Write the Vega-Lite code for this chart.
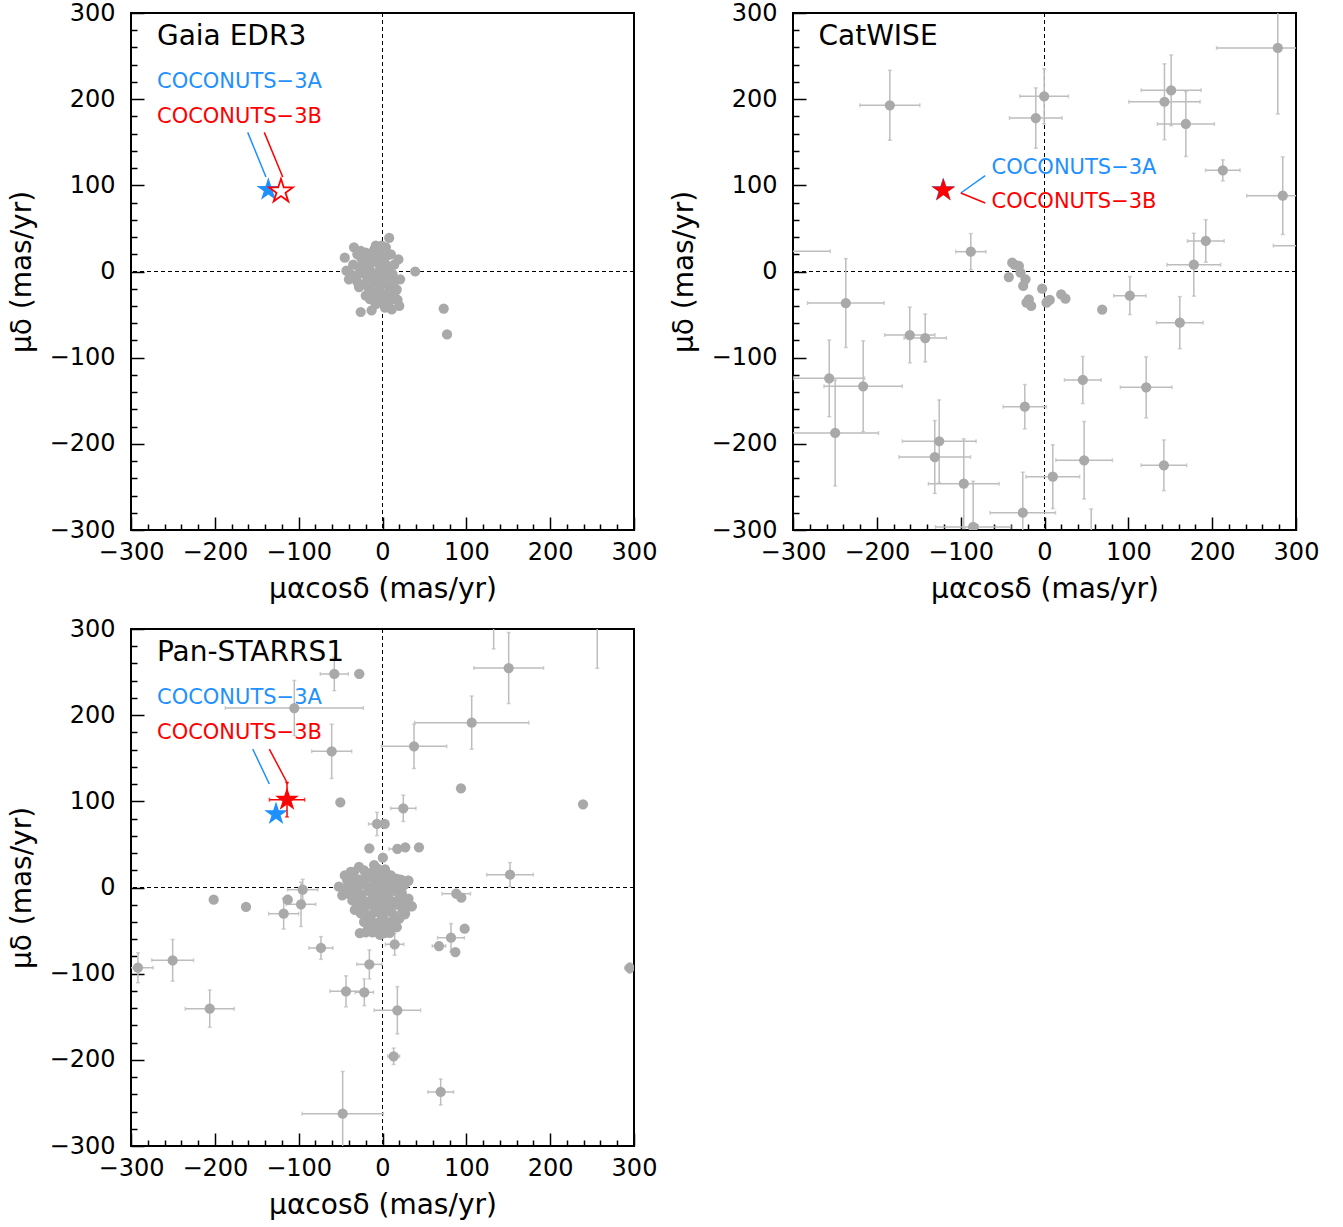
{
  "$schema": "https://vega.github.io/schema/vega-lite/v6.json",
  "background": "white",
  "padding": {"left": 7, "top": 0, "right": 5, "bottom": 5},
  "config": {
    "font": "DejaVu Sans",
    "view": {"stroke": "black", "strokeWidth": 2},
    "axis": {
      "grid": false, "domain": false,
      "labelFont": "DejaVu Sans", "labelFontSize": 24, "labelColor": "black",
      "tickColor": "black", "tickWidth": 1.5,
      "titleFont": "DejaVu Sans", "titleFontSize": 28, "titleFontWeight": "normal", "titleColor": "black",
      "labelFlush": false, "labelOverlap": false
    }
  },
  "datasets": {
    "bg": [
      {"s":"G","x":8,"y":39,"xerr":0,"yerr":0},{"s":"G","x":-34,"y":28,"xerr":0,"yerr":0},{"s":"G","x":-45,"y":16,"xerr":0,"yerr":0},{"s":"G","x":-43,"y":1,"xerr":0,"yerr":0},{"s":"G","x":-40,"y":-9,"xerr":0,"yerr":0},{"s":"G","x":-28,"y":-18,"xerr":0,"yerr":0},{"s":"G","x":39,"y":0,"xerr":0,"yerr":0},{"s":"G","x":21,"y":-9,"xerr":0,"yerr":0},{"s":"G","x":19,"y":14,"xerr":0,"yerr":0},{"s":"G","x":18,"y":-33,"xerr":0,"yerr":0},{"s":"G","x":20,"y":-40,"xerr":0,"yerr":0},{"s":"G","x":11,"y":-44,"xerr":0,"yerr":0},{"s":"G","x":3,"y":-42,"xerr":0,"yerr":0},{"s":"G","x":-13,"y":-45,"xerr":0,"yerr":0},{"s":"G","x":-26,"y":-47,"xerr":0,"yerr":0},{"s":"G","x":73,"y":-43,"xerr":0,"yerr":0},{"s":"G","x":77,"y":-73,"xerr":0,"yerr":0},{"s":"G","x":-8,"y":30,"xerr":0,"yerr":0},{"s":"G","x":4,"y":28,"xerr":0,"yerr":0},{"s":"G","x":-15,"y":-32,"xerr":0,"yerr":0},{"s":"G","x":17,"y":-21,"xerr":0,"yerr":0},
      {"s":"G","x":-30,"y":20,"xerr":0,"yerr":0},{"s":"G","x":-25,"y":15,"xerr":0,"yerr":0},{"s":"G","x":-20,"y":22,"xerr":0,"yerr":0},{"s":"G","x":-15,"y":18,"xerr":0,"yerr":0},{"s":"G","x":-10,"y":25,"xerr":0,"yerr":0},{"s":"G","x":-5,"y":20,"xerr":0,"yerr":0},{"s":"G","x":0,"y":22,"xerr":0,"yerr":0},{"s":"G","x":5,"y":18,"xerr":0,"yerr":0},{"s":"G","x":10,"y":20,"xerr":0,"yerr":0},{"s":"G","x":-35,"y":8,"xerr":0,"yerr":0},{"s":"G","x":-28,"y":5,"xerr":0,"yerr":0},{"s":"G","x":-22,"y":10,"xerr":0,"yerr":0},{"s":"G","x":-16,"y":6,"xerr":0,"yerr":0},{"s":"G","x":-10,"y":12,"xerr":0,"yerr":0},{"s":"G","x":-4,"y":8,"xerr":0,"yerr":0},{"s":"G","x":2,"y":10,"xerr":0,"yerr":0},{"s":"G","x":8,"y":6,"xerr":0,"yerr":0},{"s":"G","x":14,"y":8,"xerr":0,"yerr":0},{"s":"G","x":-38,"y":-3,"xerr":0,"yerr":0},{"s":"G","x":-32,"y":-5,"xerr":0,"yerr":0},{"s":"G","x":-25,"y":-2,"xerr":0,"yerr":0},{"s":"G","x":-18,"y":-8,"xerr":0,"yerr":0},{"s":"G","x":-12,"y":-1,"xerr":0,"yerr":0},{"s":"G","x":-6,"y":-5,"xerr":0,"yerr":0},{"s":"G","x":0,"y":-2,"xerr":0,"yerr":0},{"s":"G","x":6,"y":-6,"xerr":0,"yerr":0},{"s":"G","x":12,"y":-3,"xerr":0,"yerr":0},{"s":"G","x":-30,"y":-12,"xerr":0,"yerr":0},{"s":"G","x":-22,"y":-15,"xerr":0,"yerr":0},{"s":"G","x":-16,"y":-20,"xerr":0,"yerr":0},{"s":"G","x":-10,"y":-12,"xerr":0,"yerr":0},{"s":"G","x":-4,"y":-18,"xerr":0,"yerr":0},{"s":"G","x":2,"y":-14,"xerr":0,"yerr":0},{"s":"G","x":8,"y":-18,"xerr":0,"yerr":0},{"s":"G","x":14,"y":-12,"xerr":0,"yerr":0},{"s":"G","x":-20,"y":-28,"xerr":0,"yerr":0},{"s":"G","x":-12,"y":-25,"xerr":0,"yerr":0},{"s":"G","x":-6,"y":-30,"xerr":0,"yerr":0},{"s":"G","x":0,"y":-26,"xerr":0,"yerr":0},{"s":"G","x":6,"y":-28,"xerr":0,"yerr":0},{"s":"G","x":12,"y":-26,"xerr":0,"yerr":0},{"s":"G","x":-8,"y":-38,"xerr":0,"yerr":0},{"s":"G","x":0,"y":-36,"xerr":0,"yerr":0},{"s":"G","x":8,"y":-35,"xerr":0,"yerr":0},{"s":"G","x":-2,"y":2,"xerr":0,"yerr":0},{"s":"G","x":-20,"y":0,"xerr":0,"yerr":0},{"s":"G","x":-14,"y":14,"xerr":0,"yerr":0},{"s":"G","x":4,"y":0,"xerr":0,"yerr":0},{"s":"G","x":-26,"y":24,"xerr":0,"yerr":0},{"s":"G","x":-9,"y":-8,"xerr":0,"yerr":0},{"s":"G","x":-3,"y":-10,"xerr":0,"yerr":0},{"s":"G","x":10,"y":-22,"xerr":0,"yerr":0},{"s":"G","x":15,"y":-30,"xerr":0,"yerr":0},{"s":"G","x":-1,"y":30,"xerr":0,"yerr":0},{"s":"G","x":0,"y":14,"xerr":0,"yerr":0},

      {"s":"C","x":-184.5,"y":192.9,"xerr":35.8,"yerr":40.6},{"s":"C","x":-87.9,"y":23,"xerr":18,"yerr":21},{"s":"C","x":-10.4,"y":178.1,"xerr":31.4,"yerr":35},{"s":"C","x":-0.4,"y":203.3,"xerr":29,"yerr":32},{"s":"C","x":-310,"y":23.5,"xerr":54.4,"yerr":20},{"s":"C","x":-237,"y":-36.6,"xerr":45.7,"yerr":51.6},{"s":"C","x":278.3,"y":259.4,"xerr":73,"yerr":76.6},{"s":"C","x":151.1,"y":210.3,"xerr":35.8,"yerr":41},{"s":"C","x":143.1,"y":197,"xerr":42.5,"yerr":44},{"s":"C","x":168.6,"y":171.2,"xerr":34,"yerr":37.7},{"s":"C","x":212.7,"y":117.4,"xerr":20.6,"yerr":12.2},{"s":"C","x":284.2,"y":88,"xerr":43,"yerr":45},{"s":"C","x":330,"y":30,"xerr":57,"yerr":20},{"s":"C","x":192.4,"y":35.4,"xerr":21.9,"yerr":24.7},{"s":"C","x":178.1,"y":7.9,"xerr":32,"yerr":36.5},{"s":"C","x":-160.7,"y":-73.7,"xerr":30,"yerr":32.3},{"s":"C","x":-142.3,"y":-77.2,"xerr":25.2,"yerr":27.8},{"s":"C","x":-256.8,"y":-124,"xerr":42.3,"yerr":44.5},{"s":"C","x":-216.3,"y":-133.2,"xerr":46.7,"yerr":52.8},{"s":"C","x":-249.7,"y":-187.4,"xerr":51.7,"yerr":61.5},{"s":"C","x":-125.6,"y":-197,"xerr":44,"yerr":48},{"s":"C","x":-130.9,"y":-215.3,"xerr":42.7,"yerr":42.3},{"s":"C","x":-96.3,"y":-246.3,"xerr":42.2,"yerr":52},{"s":"C","x":-85.1,"y":-296.5,"xerr":45,"yerr":53},{"s":"C","x":-25.9,"y":-279.9,"xerr":39,"yerr":47},{"s":"C","x":-23.5,"y":-156.9,"xerr":25.8,"yerr":25.7},{"s":"C","x":9.9,"y":-238.1,"xerr":32,"yerr":37},{"s":"C","x":55.7,"y":-320,"xerr":30,"yerr":44.4},{"s":"C","x":101.8,"y":-28,"xerr":19.3,"yerr":22},{"s":"C","x":161.4,"y":-59.4,"xerr":27.8,"yerr":30.2},{"s":"C","x":45.7,"y":-125.9,"xerr":21.9,"yerr":27.3},{"s":"C","x":121.3,"y":-134.4,"xerr":30.8,"yerr":35.4},{"s":"C","x":47.3,"y":-219.1,"xerr":33.8,"yerr":44.9},{"s":"C","x":142.4,"y":-224.9,"xerr":27.2,"yerr":29.4},{"s":"C","x":68.8,"y":-44.3,"xerr":0,"yerr":0},
      {"s":"C","x":-38.5,"y":10.2,"xerr":0,"yerr":0},{"s":"C","x":-36,"y":8,"xerr":0,"yerr":0},{"s":"C","x":-30.6,"y":6.4,"xerr":0,"yerr":0},{"s":"C","x":-28.6,"y":-1.4,"xerr":0,"yerr":0},{"s":"C","x":-42.6,"y":-6.4,"xerr":0,"yerr":0},{"s":"C","x":-22.7,"y":-9,"xerr":0,"yerr":0},{"s":"C","x":-25.4,"y":-16.8,"xerr":0,"yerr":0},{"s":"C","x":-2.8,"y":-20,"xerr":0,"yerr":0},{"s":"C","x":-18.7,"y":-32.3,"xerr":0,"yerr":0},{"s":"C","x":-15.9,"y":-40,"xerr":0,"yerr":0},{"s":"C","x":-21.5,"y":-36.2,"xerr":0,"yerr":0},{"s":"C","x":2.4,"y":-36.2,"xerr":0,"yerr":0},{"s":"C","x":6.3,"y":-33,"xerr":0,"yerr":0},{"s":"C","x":19.9,"y":-26.5,"xerr":0,"yerr":0},{"s":"C","x":25,"y":-31.6,"xerr":0,"yerr":0},{"s":"C","x":3.9,"y":-34.2,"xerr":0,"yerr":0},

      {"s":"P","x":-57.5,"y":247.8,"xerr":16.7,"yerr":19.4},{"s":"P","x":-27.7,"y":247.8,"xerr":5,"yerr":5},{"s":"P","x":-105.2,"y":208.3,"xerr":82.3,"yerr":32},{"s":"P","x":-60.6,"y":158,"xerr":23.9,"yerr":31.5},{"s":"P","x":-50.3,"y":98.9,"xerr":0,"yerr":0},{"s":"P","x":-6.6,"y":73.7,"xerr":10,"yerr":13.5},{"s":"P","x":2.6,"y":73.7,"xerr":0,"yerr":0},{"s":"P","x":-15.7,"y":45.5,"xerr":0,"yerr":0},{"s":"P","x":0.4,"y":34.6,"xerr":0,"yerr":0},{"s":"P","x":150.5,"y":254.7,"xerr":41.6,"yerr":41.2},{"s":"P","x":132.6,"y":320,"xerr":20,"yerr":43.2},{"s":"P","x":256.2,"y":330,"xerr":30,"yerr":75.6},{"s":"P","x":106.4,"y":191.3,"xerr":68.2,"yerr":30.9},{"s":"P","x":37.6,"y":163.8,"xerr":39,"yerr":25.7},{"s":"P","x":93.6,"y":115.1,"xerr":0,"yerr":0},{"s":"P","x":239.2,"y":96.5,"xerr":0,"yerr":0},{"s":"P","x":24.8,"y":91.9,"xerr":15.1,"yerr":15.3},{"s":"P","x":17.7,"y":44.7,"xerr":10,"yerr":5},{"s":"P","x":27.2,"y":46.7,"xerr":0,"yerr":0},{"s":"P","x":43.5,"y":46.7,"xerr":0,"yerr":0},{"s":"P","x":152.1,"y":14.9,"xerr":27.8,"yerr":14},{"s":"P","x":-201.4,"y":-14.1,"xerr":0,"yerr":0},{"s":"P","x":-162.8,"y":-22.6,"xerr":0,"yerr":0},{"s":"P","x":-113.1,"y":-14.1,"xerr":5,"yerr":5},{"s":"P","x":-117.9,"y":-30.4,"xerr":17.9,"yerr":17.8},{"s":"P","x":-97.2,"y":-19.5,"xerr":17.5,"yerr":25.7},{"s":"P","x":-95.2,"y":-2.5,"xerr":18,"yerr":12},{"s":"P","x":-291.7,"y":-93.1,"xerr":18,"yerr":17.4},{"s":"P","x":-250.3,"y":-84.5,"xerr":24.9,"yerr":24.2},{"s":"P","x":-206.1,"y":-140.6,"xerr":29.2,"yerr":21.6},{"s":"P","x":-73.4,"y":-70.2,"xerr":14.3,"yerr":13.2},{"s":"P","x":-15.7,"y":-89.2,"xerr":15,"yerr":16.8},{"s":"P","x":-43.5,"y":-120.5,"xerr":19.3,"yerr":18},{"s":"P","x":-21.7,"y":-121.6,"xerr":11,"yerr":15.5},{"s":"P","x":17.7,"y":-142.5,"xerr":27.7,"yerr":27.5},{"s":"P","x":-47.5,"y":-262.5,"xerr":48.5,"yerr":49},{"s":"P","x":88,"y":-7.2,"xerr":17,"yerr":5},{"s":"P","x":94,"y":-11.8,"xerr":0,"yerr":0},{"s":"P","x":98,"y":-47.8,"xerr":0,"yerr":0},{"s":"P","x":81.7,"y":-58.3,"xerr":16,"yerr":16.4},{"s":"P","x":67.4,"y":-67.9,"xerr":8,"yerr":5},{"s":"P","x":86.9,"y":-74.9,"xerr":0,"yerr":0},{"s":"P","x":14.5,"y":-65.9,"xerr":11,"yerr":12.6},{"s":"P","x":13.3,"y":-195.9,"xerr":7,"yerr":9.5},{"s":"P","x":69.4,"y":-237.3,"xerr":15.3,"yerr":15.1},{"s":"P","x":294.9,"y":-93.4,"xerr":6,"yerr":6},
      {"s":"P","x":26.5,"y":-31.1,"xerr":0,"yerr":0},{"s":"P","x":34.4,"y":-21.5,"xerr":0,"yerr":0},{"s":"P","x":16.5,"y":-45.8,"xerr":0,"yerr":0},{"s":"P","x":8.6,"y":-52.8,"xerr":0,"yerr":0},{"s":"P","x":16.5,"y":9.9,"xerr":0,"yerr":0},{"s":"P","x":30.4,"y":7.9,"xerr":0,"yerr":0},
      {"s":"P","x":-45,"y":14,"xerr":0,"yerr":0},{"s":"P","x":-52,"y":1,"xerr":0,"yerr":0},{"s":"P","x":-48,"y":-9,"xerr":0,"yerr":0},{"s":"P","x":-33,"y":-26,"xerr":0,"yerr":0},{"s":"P","x":-27,"y":-53,"xerr":0,"yerr":0},{"s":"P","x":-3,"y":-55,"xerr":0,"yerr":0},{"s":"P","x":9,"y":-51,"xerr":0,"yerr":0},{"s":"P","x":17,"y":-46,"xerr":0,"yerr":0},{"s":"P","x":27,"y":-30,"xerr":0,"yerr":0},{"s":"P","x":35,"y":-22,"xerr":0,"yerr":0},{"s":"P","x":31,"y":-13,"xerr":0,"yerr":0},{"s":"P","x":31,"y":8,"xerr":0,"yerr":0},{"s":"P","x":17,"y":10,"xerr":0,"yerr":0},{"s":"P","x":3,"y":21,"xerr":0,"yerr":0},{"s":"P","x":-28,"y":24,"xerr":0,"yerr":0},{"s":"P","x":-20,"y":-52,"xerr":0,"yerr":0},{"s":"P","x":-40,"y":-5,"xerr":0,"yerr":0},{"s":"P","x":-10,"y":26,"xerr":0,"yerr":0},{"s":"P","x":-5,"y":16,"xerr":0,"yerr":0},{"s":"P","x":-38,"y":18,"xerr":0,"yerr":0},
      {"s":"P","x":-34,"y":18,"xerr":0,"yerr":0},{"s":"P","x":-22,"y":20,"xerr":0,"yerr":0},{"s":"P","x":-14,"y":17,"xerr":0,"yerr":0},{"s":"P","x":-6,"y":22,"xerr":0,"yerr":0},{"s":"P","x":2,"y":16,"xerr":0,"yerr":0},{"s":"P","x":10,"y":14,"xerr":0,"yerr":0},
      {"s":"P","x":-42,"y":8,"xerr":0,"yerr":0},{"s":"P","x":-35,"y":11,"xerr":0,"yerr":0},{"s":"P","x":-27,"y":9,"xerr":0,"yerr":0},{"s":"P","x":-19,"y":12,"xerr":0,"yerr":0},{"s":"P","x":-11,"y":10,"xerr":0,"yerr":0},{"s":"P","x":-3,"y":8,"xerr":0,"yerr":0},{"s":"P","x":5,"y":11,"xerr":0,"yerr":0},{"s":"P","x":13,"y":6,"xerr":0,"yerr":0},{"s":"P","x":22,"y":9,"xerr":0,"yerr":0},
      {"s":"P","x":-44,"y":-1,"xerr":0,"yerr":0},{"s":"P","x":-37,"y":3,"xerr":0,"yerr":0},{"s":"P","x":-29,"y":1,"xerr":0,"yerr":0},{"s":"P","x":-21,"y":4,"xerr":0,"yerr":0},{"s":"P","x":-13,"y":0,"xerr":0,"yerr":0},{"s":"P","x":-5,"y":3,"xerr":0,"yerr":0},{"s":"P","x":3,"y":0,"xerr":0,"yerr":0},{"s":"P","x":11,"y":2,"xerr":0,"yerr":0},{"s":"P","x":19,"y":-1,"xerr":0,"yerr":0},{"s":"P","x":26,"y":3,"xerr":0,"yerr":0},
      {"s":"P","x":-41,"y":-7,"xerr":0,"yerr":0},{"s":"P","x":-33,"y":-5,"xerr":0,"yerr":0},{"s":"P","x":-25,"y":-8,"xerr":0,"yerr":0},{"s":"P","x":-17,"y":-4,"xerr":0,"yerr":0},{"s":"P","x":-9,"y":-7,"xerr":0,"yerr":0},{"s":"P","x":-1,"y":-5,"xerr":0,"yerr":0},{"s":"P","x":7,"y":-8,"xerr":0,"yerr":0},{"s":"P","x":15,"y":-4,"xerr":0,"yerr":0},{"s":"P","x":23,"y":-6,"xerr":0,"yerr":0},
      {"s":"P","x":-36,"y":-15,"xerr":0,"yerr":0},{"s":"P","x":-28,"y":-12,"xerr":0,"yerr":0},{"s":"P","x":-20,"y":-16,"xerr":0,"yerr":0},{"s":"P","x":-12,"y":-13,"xerr":0,"yerr":0},{"s":"P","x":-4,"y":-15,"xerr":0,"yerr":0},{"s":"P","x":4,"y":-12,"xerr":0,"yerr":0},{"s":"P","x":12,"y":-16,"xerr":0,"yerr":0},{"s":"P","x":20,"y":-13,"xerr":0,"yerr":0},{"s":"P","x":28,"y":-17,"xerr":0,"yerr":0},
      {"s":"P","x":-30,"y":-21,"xerr":0,"yerr":0},{"s":"P","x":-22,"y":-24,"xerr":0,"yerr":0},{"s":"P","x":-14,"y":-20,"xerr":0,"yerr":0},{"s":"P","x":-6,"y":-23,"xerr":0,"yerr":0},{"s":"P","x":2,"y":-21,"xerr":0,"yerr":0},{"s":"P","x":10,"y":-24,"xerr":0,"yerr":0},{"s":"P","x":18,"y":-20,"xerr":0,"yerr":0},{"s":"P","x":24,"y":-26,"xerr":0,"yerr":0},
      {"s":"P","x":-26,"y":-30,"xerr":0,"yerr":0},{"s":"P","x":-18,"y":-32,"xerr":0,"yerr":0},{"s":"P","x":-10,"y":-29,"xerr":0,"yerr":0},{"s":"P","x":-2,"y":-31,"xerr":0,"yerr":0},{"s":"P","x":6,"y":-28,"xerr":0,"yerr":0},{"s":"P","x":14,"y":-32,"xerr":0,"yerr":0},{"s":"P","x":20,"y":-36,"xerr":0,"yerr":0},
      {"s":"P","x":-22,"y":-40,"xerr":0,"yerr":0},{"s":"P","x":-14,"y":-37,"xerr":0,"yerr":0},{"s":"P","x":-6,"y":-41,"xerr":0,"yerr":0},{"s":"P","x":2,"y":-38,"xerr":0,"yerr":0},{"s":"P","x":10,"y":-40,"xerr":0,"yerr":0},
      {"s":"P","x":-17,"y":-47,"xerr":0,"yerr":0},{"s":"P","x":-9,"y":-45,"xerr":0,"yerr":0},{"s":"P","x":-1,"y":-48,"xerr":0,"yerr":0},{"s":"P","x":7,"y":-44,"xerr":0,"yerr":0},{"s":"P","x":-12,"y":-52,"xerr":0,"yerr":0},{"s":"P","x":2,"y":-53,"xerr":0,"yerr":0}
    ],
    "stars": [
      {"s":"G","src":"A","x":-136.2,"y":94.9,"xerr":0,"yerr":0},
      {"s":"G","src":"B","x":-121.1,"y":93.1,"xerr":0,"yerr":0},
      {"s":"C","src":"A","x":-121,"y":94.5,"xerr":0,"yerr":0},
      {"s":"C","src":"B","x":-120.5,"y":94.2,"xerr":0,"yerr":0},
      {"s":"P","src":"A","x":-127,"y":85.3,"xerr":0,"yerr":0},
      {"s":"P","src":"B","x":-113.9,"y":101.9,"xerr":21,"yerr":20}
    ],
    "notes": [
      {"s":"G","kind":"title","text":"Gaia EDR3","x":-269,"y":272},
      {"s":"G","kind":"A","text":"COCONUTS−3A","x":-269,"y":220},
      {"s":"G","kind":"B","text":"COCONUTS−3B","x":-269,"y":179},
      {"s":"C","kind":"title","text":"CatWISE","x":-269.6,"y":272},
      {"s":"C","kind":"A","text":"COCONUTS−3A","x":-63.2,"y":120.1},
      {"s":"C","kind":"B","text":"COCONUTS−3B","x":-63.2,"y":80.7},
      {"s":"P","kind":"title","text":"Pan-STARRS1","x":-269,"y":272},
      {"s":"P","kind":"A","text":"COCONUTS−3A","x":-269,"y":219.5},
      {"s":"P","kind":"B","text":"COCONUTS−3B","x":-269,"y":178.9}
    ],
    "pointers": [
      {"s":"G","src":"A","x":-160.8,"y":161.5,"x2":-139,"y2":109.7},
      {"s":"G","src":"B","x":-141,"y":161.5,"x2":-119,"y2":109.7},
      {"s":"C","src":"A","x":-99.8,"y":91.1,"x2":-70.7,"y2":111.2},
      {"s":"C","src":"B","x":-99.8,"y":91.1,"x2":-70.7,"y2":79.5},
      {"s":"P","src":"A","x":-154.8,"y":160.7,"x2":-135,"y2":120.1},
      {"s":"P","src":"B","x":-135,"y":160.7,"x2":-113,"y2":120.1}
    ]
  },
  "vconcat": [
    {
      "hconcat": [
        {
          "width": 503, "height": 517,
          "resolve": {"axis": {"x": "independent", "y": "independent"}},
          "layer": [
            {"data": {"values": [{}]}, "mark": {"type": "rule", "color": "black", "strokeWidth": 1, "strokeDash": [4, 3]},
             "encoding": {"x": {"datum": 0, "type": "quantitative", "scale": {"domain": [-300, 300], "nice": false},
               "axis": {"orient": "bottom", "values": [-280,-260,-240,-220,-180,-160,-140,-120,-80,-60,-40,-20,20,40,60,80,120,140,160,180,220,240,260,280], "tickSize": -6, "labels": false, "title": null, "domain": false}}}},
            {"data": {"values": [{}]}, "mark": {"type": "rule", "color": "black", "strokeWidth": 1, "strokeDash": [4, 3]},
             "encoding": {"y": {"datum": 0, "type": "quantitative", "scale": {"domain": [-300, 300], "nice": false},
               "axis": {"orient": "left", "values": [-280,-260,-240,-220,-180,-160,-140,-120,-80,-60,-40,-20,20,40,60,80,120,140,160,180,220,240,260,280], "tickSize": -6, "labels": false, "title": null, "domain": false}}}},
            {"data": {"name": "bg"}, "transform": [{"filter": "datum.s === 'G'"}],
             "mark": {"type": "circle", "size": 105, "color": "#a9a9a9", "opacity": 1, "clip": true},
             "encoding": {
               "x": {"field": "x", "type": "quantitative", "scale": {"domain": [-300, 300], "nice": false},
                 "axis": {"orient": "bottom", "values": [-300,-200,-100,0,100,200,300], "format": "d", "tickSize": -13, "labelPadding": 23, "title": "μαcosδ (mas/yr)", "titlePadding": 11}},
               "y": {"field": "y", "type": "quantitative", "scale": {"domain": [-300, 300], "nice": false},
                 "axis": {"orient": "left", "values": [-300,-200,-100,0,100,200,300], "format": "d", "tickSize": -13, "labelPadding": 29, "title": "μδ (mas/yr)", "titlePadding": 13}}
             }},
            {"data": {"name": "stars"}, "transform": [{"filter": "datum.s === 'G' && datum.src === 'A'"}],
             "mark": {"type": "point", "shape": "M0,-1L0.2245,-0.309L0.951,-0.309L0.3633,0.118L0.588,0.809L0,0.382L-0.588,0.809L-0.3633,0.118L-0.951,-0.309L-0.2245,-0.309Z", "size": 620, "filled": true, "color": "#1e90ff", "opacity": 1},
             "encoding": {"x": {"field": "x", "type": "quantitative", "axis": null}, "y": {"field": "y", "type": "quantitative", "axis": null}}},
            {"data": {"name": "stars"}, "transform": [{"filter": "datum.s === 'G' && datum.src === 'B'"}],
             "mark": {"type": "point", "shape": "M0,-1L0.2245,-0.309L0.951,-0.309L0.3633,0.118L0.588,0.809L0,0.382L-0.588,0.809L-0.3633,0.118L-0.951,-0.309L-0.2245,-0.309Z", "size": 620, "filled": false, "fill": "white", "fillOpacity": 1, "stroke": "red", "strokeWidth": 1.8, "opacity": 1},
             "encoding": {"x": {"field": "x", "type": "quantitative", "axis": null}, "y": {"field": "y", "type": "quantitative", "axis": null}}},
            {"data": {"name": "pointers"}, "transform": [{"filter": "datum.s === 'G' && datum.src === 'A'"}],
             "mark": {"type": "rule", "color": "#1e90ff", "strokeWidth": 1.5},
             "encoding": {"x": {"field": "x", "type": "quantitative", "axis": null}, "y": {"field": "y", "type": "quantitative", "axis": null}, "x2": {"field": "x2"}, "y2": {"field": "y2"}}},
            {"data": {"name": "pointers"}, "transform": [{"filter": "datum.s === 'G' && datum.src === 'B'"}],
             "mark": {"type": "rule", "color": "red", "strokeWidth": 1.5},
             "encoding": {"x": {"field": "x", "type": "quantitative", "axis": null}, "y": {"field": "y", "type": "quantitative", "axis": null}, "x2": {"field": "x2"}, "y2": {"field": "y2"}}},
            {"data": {"name": "notes"}, "transform": [{"filter": "datum.s === 'G' && datum.kind === 'title'"}],
             "mark": {"type": "text", "align": "left", "baseline": "middle", "fontSize": 28, "color": "black"},
             "encoding": {"x": {"field": "x", "type": "quantitative", "axis": null}, "y": {"field": "y", "type": "quantitative", "axis": null}, "text": {"field": "text"}}},
            {"data": {"name": "notes"}, "transform": [{"filter": "datum.s === 'G' && datum.kind === 'A'"}],
             "mark": {"type": "text", "align": "left", "baseline": "middle", "fontSize": 21, "color": "#1e90ff"},
             "encoding": {"x": {"field": "x", "type": "quantitative", "axis": null}, "y": {"field": "y", "type": "quantitative", "axis": null}, "text": {"field": "text"}}},
            {"data": {"name": "notes"}, "transform": [{"filter": "datum.s === 'G' && datum.kind === 'B'"}],
             "mark": {"type": "text", "align": "left", "baseline": "middle", "fontSize": 21, "color": "red"},
             "encoding": {"x": {"field": "x", "type": "quantitative", "axis": null}, "y": {"field": "y", "type": "quantitative", "axis": null}, "text": {"field": "text"}}}
          ]
        },
        {
          "width": 503, "height": 517,
          "resolve": {"axis": {"x": "independent", "y": "independent"}},
          "layer": [
            {"data": {"values": [{}]}, "mark": {"type": "rule", "color": "black", "strokeWidth": 1, "strokeDash": [4, 3]},
             "encoding": {"x": {"datum": 0, "type": "quantitative", "scale": {"domain": [-300, 300], "nice": false},
               "axis": {"orient": "bottom", "values": [-280,-260,-240,-220,-180,-160,-140,-120,-80,-60,-40,-20,20,40,60,80,120,140,160,180,220,240,260,280], "tickSize": -6, "labels": false, "title": null, "domain": false}}}},
            {"data": {"values": [{}]}, "mark": {"type": "rule", "color": "black", "strokeWidth": 1, "strokeDash": [4, 3]},
             "encoding": {"y": {"datum": 0, "type": "quantitative", "scale": {"domain": [-300, 300], "nice": false},
               "axis": {"orient": "left", "values": [-280,-260,-240,-220,-180,-160,-140,-120,-80,-60,-40,-20,20,40,60,80,120,140,160,180,220,240,260,280], "tickSize": -6, "labels": false, "title": null, "domain": false}}}},
            {"data": {"name": "bg"}, "transform": [{"filter": "datum.s === 'C' && datum.xerr > 0"}],
             "mark": {"type": "errorbar", "color": "#bdbdbd", "thickness": 1.5, "ticks": {"size": 4}, "clip": true},
             "encoding": {"x": {"field": "x", "type": "quantitative", "scale": {"domain": [-300, 300], "nice": false}, "axis": null}, "xError": {"field": "xerr"}, "y": {"field": "y", "type": "quantitative", "scale": {"domain": [-300, 300], "nice": false}, "axis": null}}},
            {"data": {"name": "bg"}, "transform": [{"filter": "datum.s === 'C' && datum.yerr > 0"}],
             "mark": {"type": "errorbar", "color": "#bdbdbd", "thickness": 1.5, "ticks": {"size": 4}, "clip": true},
             "encoding": {"x": {"field": "x", "type": "quantitative", "scale": {"domain": [-300, 300], "nice": false}, "axis": null}, "y": {"field": "y", "type": "quantitative", "scale": {"domain": [-300, 300], "nice": false}, "axis": null}, "yError": {"field": "yerr"}}},
            {"data": {"name": "bg"}, "transform": [{"filter": "datum.s === 'C'"}],
             "mark": {"type": "circle", "size": 105, "color": "#a9a9a9", "opacity": 1, "clip": true},
             "encoding": {
               "x": {"field": "x", "type": "quantitative", "scale": {"domain": [-300, 300], "nice": false},
                 "axis": {"orient": "bottom", "values": [-300,-200,-100,0,100,200,300], "format": "d", "tickSize": -13, "labelPadding": 23, "title": "μαcosδ (mas/yr)", "titlePadding": 11}},
               "y": {"field": "y", "type": "quantitative", "scale": {"domain": [-300, 300], "nice": false},
                 "axis": {"orient": "left", "values": [-300,-200,-100,0,100,200,300], "format": "d", "tickSize": -13, "labelPadding": 29, "title": "μδ (mas/yr)", "titlePadding": 13}}
             }},
            {"data": {"name": "stars"}, "transform": [{"filter": "datum.s === 'C' && datum.src === 'A'"}],
             "mark": {"type": "point", "shape": "M0,-1L0.2245,-0.309L0.951,-0.309L0.3633,0.118L0.588,0.809L0,0.382L-0.588,0.809L-0.3633,0.118L-0.951,-0.309L-0.2245,-0.309Z", "size": 620, "filled": true, "color": "#1e90ff", "opacity": 1},
             "encoding": {"x": {"field": "x", "type": "quantitative", "axis": null}, "y": {"field": "y", "type": "quantitative", "axis": null}}},
            {"data": {"name": "stars"}, "transform": [{"filter": "datum.s === 'C' && datum.src === 'B'"}],
             "mark": {"type": "point", "shape": "M0,-1L0.2245,-0.309L0.951,-0.309L0.3633,0.118L0.588,0.809L0,0.382L-0.588,0.809L-0.3633,0.118L-0.951,-0.309L-0.2245,-0.309Z", "size": 620, "filled": true, "color": "red", "opacity": 1},
             "encoding": {"x": {"field": "x", "type": "quantitative", "axis": null}, "y": {"field": "y", "type": "quantitative", "axis": null}}},
            {"data": {"name": "pointers"}, "transform": [{"filter": "datum.s === 'C' && datum.src === 'A'"}],
             "mark": {"type": "rule", "color": "#1e90ff", "strokeWidth": 1.5},
             "encoding": {"x": {"field": "x", "type": "quantitative", "axis": null}, "y": {"field": "y", "type": "quantitative", "axis": null}, "x2": {"field": "x2"}, "y2": {"field": "y2"}}},
            {"data": {"name": "pointers"}, "transform": [{"filter": "datum.s === 'C' && datum.src === 'B'"}],
             "mark": {"type": "rule", "color": "red", "strokeWidth": 1.5},
             "encoding": {"x": {"field": "x", "type": "quantitative", "axis": null}, "y": {"field": "y", "type": "quantitative", "axis": null}, "x2": {"field": "x2"}, "y2": {"field": "y2"}}},
            {"data": {"name": "notes"}, "transform": [{"filter": "datum.s === 'C' && datum.kind === 'title'"}],
             "mark": {"type": "text", "align": "left", "baseline": "middle", "fontSize": 28, "color": "black"},
             "encoding": {"x": {"field": "x", "type": "quantitative", "axis": null}, "y": {"field": "y", "type": "quantitative", "axis": null}, "text": {"field": "text"}}},
            {"data": {"name": "notes"}, "transform": [{"filter": "datum.s === 'C' && datum.kind === 'A'"}],
             "mark": {"type": "text", "align": "left", "baseline": "middle", "fontSize": 21, "color": "#1e90ff"},
             "encoding": {"x": {"field": "x", "type": "quantitative", "axis": null}, "y": {"field": "y", "type": "quantitative", "axis": null}, "text": {"field": "text"}}},
            {"data": {"name": "notes"}, "transform": [{"filter": "datum.s === 'C' && datum.kind === 'B'"}],
             "mark": {"type": "text", "align": "left", "baseline": "middle", "fontSize": 21, "color": "red"},
             "encoding": {"x": {"field": "x", "type": "quantitative", "axis": null}, "y": {"field": "y", "type": "quantitative", "axis": null}, "text": {"field": "text"}}}
          ]
        }
      ],
      "spacing": 11
    },
    {
      "width": 503, "height": 517,
      "resolve": {"axis": {"x": "independent", "y": "independent"}},
      "layer": [
        {"data": {"values": [{}]}, "mark": {"type": "rule", "color": "black", "strokeWidth": 1, "strokeDash": [4, 3]},
         "encoding": {"x": {"datum": 0, "type": "quantitative", "scale": {"domain": [-300, 300], "nice": false},
           "axis": {"orient": "bottom", "values": [-280,-260,-240,-220,-180,-160,-140,-120,-80,-60,-40,-20,20,40,60,80,120,140,160,180,220,240,260,280], "tickSize": -6, "labels": false, "title": null, "domain": false}}}},
        {"data": {"values": [{}]}, "mark": {"type": "rule", "color": "black", "strokeWidth": 1, "strokeDash": [4, 3]},
         "encoding": {"y": {"datum": 0, "type": "quantitative", "scale": {"domain": [-300, 300], "nice": false},
           "axis": {"orient": "left", "values": [-280,-260,-240,-220,-180,-160,-140,-120,-80,-60,-40,-20,20,40,60,80,120,140,160,180,220,240,260,280], "tickSize": -6, "labels": false, "title": null, "domain": false}}}},
        {"data": {"name": "bg"}, "transform": [{"filter": "datum.s === 'P' && datum.xerr > 0"}],
         "mark": {"type": "errorbar", "color": "#bdbdbd", "thickness": 1.5, "ticks": {"size": 4}, "clip": true},
         "encoding": {"x": {"field": "x", "type": "quantitative", "scale": {"domain": [-300, 300], "nice": false}, "axis": null}, "xError": {"field": "xerr"}, "y": {"field": "y", "type": "quantitative", "scale": {"domain": [-300, 300], "nice": false}, "axis": null}}},
        {"data": {"name": "bg"}, "transform": [{"filter": "datum.s === 'P' && datum.yerr > 0"}],
         "mark": {"type": "errorbar", "color": "#bdbdbd", "thickness": 1.5, "ticks": {"size": 4}, "clip": true},
         "encoding": {"x": {"field": "x", "type": "quantitative", "scale": {"domain": [-300, 300], "nice": false}, "axis": null}, "y": {"field": "y", "type": "quantitative", "scale": {"domain": [-300, 300], "nice": false}, "axis": null}, "yError": {"field": "yerr"}}},
        {"data": {"name": "bg"}, "transform": [{"filter": "datum.s === 'P'"}],
         "mark": {"type": "circle", "size": 105, "color": "#a9a9a9", "opacity": 1, "clip": true},
         "encoding": {
           "x": {"field": "x", "type": "quantitative", "scale": {"domain": [-300, 300], "nice": false},
             "axis": {"orient": "bottom", "values": [-300,-200,-100,0,100,200,300], "format": "d", "tickSize": -13, "labelPadding": 23, "title": "μαcosδ (mas/yr)", "titlePadding": 11}},
           "y": {"field": "y", "type": "quantitative", "scale": {"domain": [-300, 300], "nice": false},
             "axis": {"orient": "left", "values": [-300,-200,-100,0,100,200,300], "format": "d", "tickSize": -13, "labelPadding": 29, "title": "μδ (mas/yr)", "titlePadding": 13}}
         }},
        {"data": {"name": "stars"}, "transform": [{"filter": "datum.s === 'P' && datum.src === 'A'"}],
         "mark": {"type": "point", "shape": "M0,-1L0.2245,-0.309L0.951,-0.309L0.3633,0.118L0.588,0.809L0,0.382L-0.588,0.809L-0.3633,0.118L-0.951,-0.309L-0.2245,-0.309Z", "size": 620, "filled": true, "color": "#1e90ff", "opacity": 1},
         "encoding": {"x": {"field": "x", "type": "quantitative", "axis": null}, "y": {"field": "y", "type": "quantitative", "axis": null}}},
        {"data": {"name": "stars"}, "transform": [{"filter": "datum.s === 'P' && datum.src === 'B'"}],
         "mark": {"type": "errorbar", "color": "red", "thickness": 1.5, "ticks": {"size": 4}},
         "encoding": {"x": {"field": "x", "type": "quantitative", "axis": null}, "xError": {"field": "xerr"}, "y": {"field": "y", "type": "quantitative", "axis": null}}},
        {"data": {"name": "stars"}, "transform": [{"filter": "datum.s === 'P' && datum.src === 'B'"}],
         "mark": {"type": "errorbar", "color": "red", "thickness": 1.5, "ticks": {"size": 4}},
         "encoding": {"x": {"field": "x", "type": "quantitative", "axis": null}, "y": {"field": "y", "type": "quantitative", "axis": null}, "yError": {"field": "yerr"}}},
        {"data": {"name": "stars"}, "transform": [{"filter": "datum.s === 'P' && datum.src === 'B'"}],
         "mark": {"type": "point", "shape": "M0,-1L0.2245,-0.309L0.951,-0.309L0.3633,0.118L0.588,0.809L0,0.382L-0.588,0.809L-0.3633,0.118L-0.951,-0.309L-0.2245,-0.309Z", "size": 620, "filled": true, "color": "red", "opacity": 1},
         "encoding": {"x": {"field": "x", "type": "quantitative", "axis": null}, "y": {"field": "y", "type": "quantitative", "axis": null}}},
        {"data": {"name": "pointers"}, "transform": [{"filter": "datum.s === 'P' && datum.src === 'A'"}],
         "mark": {"type": "rule", "color": "#1e90ff", "strokeWidth": 1.5},
         "encoding": {"x": {"field": "x", "type": "quantitative", "axis": null}, "y": {"field": "y", "type": "quantitative", "axis": null}, "x2": {"field": "x2"}, "y2": {"field": "y2"}}},
        {"data": {"name": "pointers"}, "transform": [{"filter": "datum.s === 'P' && datum.src === 'B'"}],
         "mark": {"type": "rule", "color": "red", "strokeWidth": 1.5},
         "encoding": {"x": {"field": "x", "type": "quantitative", "axis": null}, "y": {"field": "y", "type": "quantitative", "axis": null}, "x2": {"field": "x2"}, "y2": {"field": "y2"}}},
        {"data": {"name": "notes"}, "transform": [{"filter": "datum.s === 'P' && datum.kind === 'title'"}],
         "mark": {"type": "text", "align": "left", "baseline": "middle", "fontSize": 28, "color": "black"},
         "encoding": {"x": {"field": "x", "type": "quantitative", "axis": null}, "y": {"field": "y", "type": "quantitative", "axis": null}, "text": {"field": "text"}}},
        {"data": {"name": "notes"}, "transform": [{"filter": "datum.s === 'P' && datum.kind === 'A'"}],
         "mark": {"type": "text", "align": "left", "baseline": "middle", "fontSize": 21, "color": "#1e90ff"},
         "encoding": {"x": {"field": "x", "type": "quantitative", "axis": null}, "y": {"field": "y", "type": "quantitative", "axis": null}, "text": {"field": "text"}}},
        {"data": {"name": "notes"}, "transform": [{"filter": "datum.s === 'P' && datum.kind === 'B'"}],
         "mark": {"type": "text", "align": "left", "baseline": "middle", "fontSize": 21, "color": "red"},
         "encoding": {"x": {"field": "x", "type": "quantitative", "axis": null}, "y": {"field": "y", "type": "quantitative", "axis": null}, "text": {"field": "text"}}}
      ]
    }
  ],
  "spacing": 12
}
